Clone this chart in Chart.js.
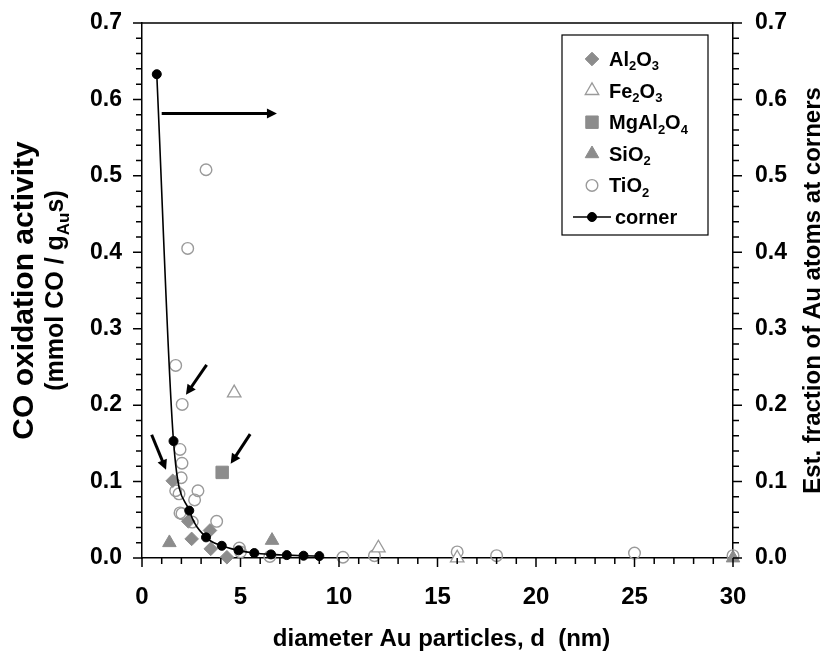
<!DOCTYPE html>
<html>
<head>
<meta charset="utf-8">
<script src="https://cdn.jsdelivr.net/npm/chart.js@4.4.1/dist/chart.umd.min.js"></script>
<style>
  html, body { margin: 0; padding: 0; background: #fff; }
</style>
</head>
<body>
<canvas id="chart" width="823" height="653"></canvas>
<script>
// particle diameter (nm) and CO oxidation activity (mmol CO / gAu s)
const al2o3X = [1.56, 2.35, 2.52, 3.45, 3.49, 4.31]
const al2o3Y = [0.101, 0.048, 0.025, 0.036, 0.012, 0.001]
const fe2o3X = [4.68, 12.0, 16.0]
const fe2o3Y = [0.216, 0.013, 0.0]
const mgal2o4X = [4.07]
const mgal2o4Y = [0.112]
const sio2X = [1.39, 6.6, 30.0]
const sio2Y = [0.020, 0.023, 0.0]
const tio2X = [3.25, 2.32, 1.71, 2.04, 1.93, 2.03, 1.99, 1.71, 1.88, 2.84, 2.67, 1.93, 2.03, 2.55, 3.79, 4.94, 5.0, 6.49, 10.2, 11.8, 16.0, 18.0, 25.0, 30.0]
const tio2Y = [0.508, 0.405, 0.252, 0.201, 0.142, 0.124, 0.105, 0.088, 0.084, 0.088, 0.076, 0.059, 0.058, 0.047, 0.048, 0.013, 0.008, 0.002, 0.001, 0.003, 0.008, 0.003, 0.0065, 0.003]
// estimated fraction of Au atoms at corners (right axis)
const cornerX = [0.75, 1.6, 2.4, 3.25, 4.05, 4.9, 5.7, 6.55, 7.35, 8.2, 9.0]
const cornerY = [0.633, 0.153, 0.062, 0.027, 0.016, 0.010, 0.0065, 0.0047, 0.0038, 0.003, 0.0025]

// arrows drawn on the plot, in data units: [x1, y1, x2, y2]
const arrows = [
  [1.0, 0.5816, 6.85, 0.5816],
  [3.28, 0.2526, 2.23, 0.2135],
  [0.49, 0.1612, 1.22, 0.1154],
  [5.49, 0.162, 4.5, 0.1232]
]

const FONT = '"Liberation Sans", Arial, Helvetica, sans-serif'
const GREY = '#8c8c8c'
const LIGHT = '#9a9a9a'

function pts(xs, ys) {
  return xs.map((x, i) => ({ x: x, y: ys[i] }))
}

function isMajorY(v) {
  return Math.abs(v * 10 - Math.round(v * 10)) < 1e-6
}

// draw text made of normal and subscript pieces
function richText(ctx, parts, x, y, size, align) {
  const widths = parts.map(p => {
    ctx.font = 'bold ' + (p[1] ? Math.round(size * 0.66) : size) + 'px ' + FONT
    return ctx.measureText(p[0]).width
  })
  const total = widths.reduce((a, b) => a + b, 0)
  let cx = align === 'center' ? x - total / 2 : (align === 'right' ? x - total : x)
  ctx.textAlign = 'left'
  ctx.textBaseline = 'alphabetic'
  parts.forEach((p, i) => {
    ctx.font = 'bold ' + (p[1] ? Math.round(size * 0.66) : size) + 'px ' + FONT
    ctx.fillText(p[0], cx, p[1] ? y + size * 0.22 : y)
    cx += widths[i]
  })
}

const legendLabels = [
  [['Al'], ['2', 1], ['O'], ['3', 1]],
  [['Fe'], ['2', 1], ['O'], ['3', 1]],
  [['MgAl'], ['2', 1], ['O'], ['4', 1]],
  [['SiO'], ['2', 1]],
  [['TiO'], ['2', 1]],
  [['corner']]
]

const decorations = {
  id: 'decorations',
  afterDraw(chart) {
    const ctx = chart.ctx
    const { x, y, y2 } = chart.scales
    const area = chart.chartArea
    ctx.save()

    // tick marks and top frame
    ctx.strokeStyle = '#000'
    ctx.lineWidth = 1.5
    ctx.beginPath()
    x.ticks.forEach(t => {
      const px = x.getPixelForValue(t.value)
      const len = Math.abs(t.value % 5) < 1e-6 ? 9 : 6
      ctx.moveTo(px, x.top)
      ctx.lineTo(px, x.top + len)
    })
    y.ticks.forEach(t => {
      const py = y.getPixelForValue(t.value)
      ctx.moveTo(y.right, py)
      ctx.lineTo(y.right - (isMajorY(t.value) ? 9 : 6), py)
    })
    y2.ticks.forEach(t => {
      const py = y2.getPixelForValue(t.value)
      ctx.moveTo(y2.left, py)
      ctx.lineTo(y2.left + (isMajorY(t.value) ? 9 : 6), py)
    })
    ctx.moveTo(area.left, area.top)
    ctx.lineTo(area.right, area.top)
    ctx.stroke()

    // arrows
    ctx.fillStyle = '#000'
    ctx.lineWidth = 3
    arrows.forEach(a => {
      const x1 = x.getPixelForValue(a[0]), y1 = y.getPixelForValue(a[1])
      const x2 = x.getPixelForValue(a[2]), y2p = y.getPixelForValue(a[3])
      const ang = Math.atan2(y2p - y1, x2 - x1)
      const head = 10, half = 5
      ctx.beginPath()
      ctx.moveTo(x1, y1)
      ctx.lineTo(x2 - Math.cos(ang) * head * 0.8, y2p - Math.sin(ang) * head * 0.8)
      ctx.stroke()
      ctx.beginPath()
      ctx.moveTo(x2, y2p)
      ctx.lineTo(x2 - Math.cos(ang) * head - Math.sin(ang) * half, y2p - Math.sin(ang) * head + Math.cos(ang) * half)
      ctx.lineTo(x2 - Math.cos(ang) * head + Math.sin(ang) * half, y2p - Math.sin(ang) * head - Math.cos(ang) * half)
      ctx.closePath()
      ctx.fill()
    })

    // legend box
    ctx.lineWidth = 1.2
    ctx.strokeStyle = '#000'
    ctx.strokeRect(562, 35, 146, 200)
    chart.data.datasets.forEach((ds, i) => {
      const cy = 59 + i * 31.6
      const mx = 592
      if (ds.showLine) {
        ctx.strokeStyle = ds.borderColor
        ctx.lineWidth = ds.borderWidth
        ctx.beginPath()
        ctx.moveTo(573, cy)
        ctx.lineTo(611, cy)
        ctx.stroke()
      }
      ctx.fillStyle = ds.pointBackgroundColor
      ctx.strokeStyle = ds.pointBorderColor
      ctx.lineWidth = ds.pointBorderWidth
      Chart.helpers.drawPoint(ctx, {
        pointStyle: ds.pointStyle,
        radius: ds.pointRadius,
        rotation: 0,
        borderWidth: ds.pointBorderWidth
      }, mx, cy)
      ctx.fillStyle = '#000'
      richText(ctx, legendLabels[i], ds.showLine ? 615 : 609, cy + 7, 20, 'left')
    })

    // axis titles
    ctx.fillStyle = '#000'
    richText(ctx, [['diameter Au particles, d  (nm)']], (area.left + area.right) / 2 + 4, 646, 24, 'center')

    const midY = (area.top + area.bottom) / 2
    ctx.save()
    ctx.translate(33, midY)
    ctx.rotate(-Math.PI / 2)
    richText(ctx, [['CO oxidation activity']], 0, 0, 30, 'center')
    ctx.restore()

    ctx.save()
    ctx.translate(63, midY)
    ctx.rotate(-Math.PI / 2)
    richText(ctx, [['(mmol CO / g'], ['Au', 1], ['s)']], 0, 0, 25, 'center')
    ctx.restore()

    ctx.save()
    ctx.translate(820, midY)
    ctx.rotate(-Math.PI / 2)
    richText(ctx, [['Est. fraction of Au atoms at corners']], 0, 0, 24, 'center')
    ctx.restore()

    ctx.restore()
  }
}

function markerSet(label, xs, ys, style, radius, fill, stroke, bw) {
  return {
    label: label,
    data: pts(xs, ys),
    pointStyle: style,
    pointRadius: radius,
    pointHoverRadius: radius,
    pointBackgroundColor: fill,
    pointBorderColor: stroke,
    pointBorderWidth: bw,
    clip: false,
    yAxisID: 'y'
  }
}

const datasets = [
  markerSet('Al2O3', al2o3X, al2o3Y, 'rectRot', 6.8, GREY, GREY, 1),
  markerSet('Fe2O3', fe2o3X, fe2o3Y, 'triangle', 7.8, '#fff', LIGHT, 1.3),
  markerSet('MgAl2O4', mgal2o4X, mgal2o4Y, 'rect', 8.8, GREY, GREY, 1),
  markerSet('SiO2', sio2X, sio2Y, 'triangle', 7.8, GREY, GREY, 1),
  markerSet('TiO2', tio2X, tio2Y, 'circle', 5.8, 'rgba(255,255,255,0)', LIGHT, 1.4),
  {
    label: 'corner',
    data: pts(cornerX, cornerY),
    showLine: true,
    cubicInterpolationMode: 'monotone',
    borderColor: '#000',
    borderWidth: 1.6,
    pointStyle: 'circle',
    pointRadius: 4.5,
    pointHoverRadius: 4.5,
    pointBackgroundColor: '#000',
    pointBorderColor: '#000',
    pointBorderWidth: 1,
    clip: false,
    yAxisID: 'y2',
    order: -1
  }
]

const yTicks = {
  stepSize: 0.02,
  autoSkip: false,
  color: '#000',
  font: { family: FONT, size: 23, weight: 'bold' },
  callback: v => isMajorY(v) ? v.toFixed(1) : ''
}

// fixed scale sizes so the plot area sits where the original one does
function fixSize(prop, size) {
  return s => {
    s[prop] = size
    s.paddingTop = 0
    s.paddingBottom = 0
    s.paddingLeft = 0
    s.paddingRight = 0
  }
}

new Chart(document.getElementById('chart'), {
  type: 'scatter',
  data: { datasets: datasets },
  options: {
    responsive: false,
    animation: false,
    events: [],
    layout: { padding: { top: 23, left: 0, right: 0, bottom: 0 } },
    plugins: {
      legend: { display: false },
      tooltip: { enabled: false }
    },
    scales: {
      x: {
        type: 'linear',
        min: 0,
        max: 30,
        afterFit: fixSize('height', 95),
        border: { display: true, color: '#000', width: 1.5 },
        grid: { display: false, drawTicks: false },
        ticks: {
          stepSize: 1,
          autoSkip: false,
          maxRotation: 0,
          padding: 25,
          color: '#000',
          font: { family: FONT, size: 24, weight: 'bold' },
          callback: v => (Math.abs(v % 5) < 1e-6 ? String(v) : '')
        }
      },
      y: {
        type: 'linear',
        position: 'left',
        min: 0,
        max: 0.7,
        afterFit: fixSize('width', 142),
        border: { display: true, color: '#000', width: 1.5 },
        grid: { display: false, drawTicks: false },
        ticks: Object.assign({ padding: 20 }, yTicks)
      },
      y2: {
        type: 'linear',
        position: 'right',
        min: 0,
        max: 0.7,
        afterFit: fixSize('width', 90),
        border: { display: true, color: '#000', width: 1.5 },
        grid: { display: false, drawTicks: false },
        ticks: Object.assign({ padding: 22 }, yTicks)
      }
    }
  },
  plugins: [decorations]
})
</script>
</body>
</html>
